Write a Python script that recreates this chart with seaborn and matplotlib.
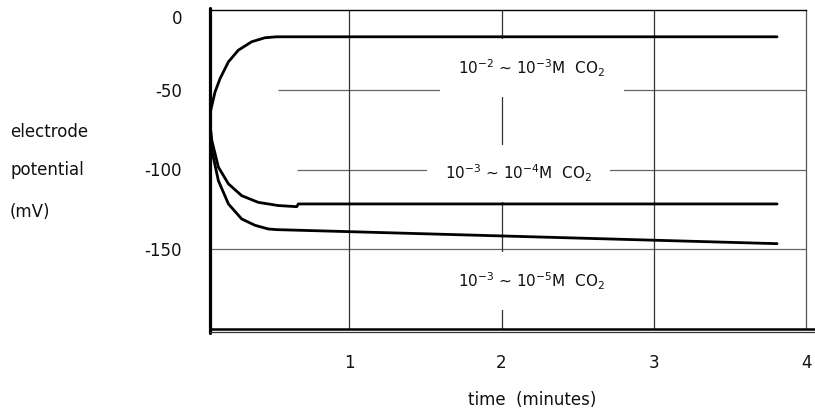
import pandas as pd
import matplotlib.pyplot as plt
import seaborn as sns

# curve readings (time in minutes, potential in mV)
high_t = [0.08, 0.097, 0.118, 0.151, 0.206, 0.271, 0.359, 0.446, 0.523, 3.81]
high_mv = [-67, -60, -51.4, -43, -32.5, -25.2, -19.9, -17.4, -16.8, -16.8]

mid_t = [0.08, 0.097, 0.14, 0.206, 0.293, 0.402, 0.534, 0.655, 0.665, 3.81]
mid_mv = [-67, -81.8, -98.5, -109, -116.4, -120.6, -122.6, -123.3, -121.6, -121.6]

low_t = [0.08, 0.097, 0.14, 0.206, 0.293, 0.381, 0.468, 0.523, 3.81]
low_mv = [-67, -88, -107, -121.6, -131, -135, -137.3, -137.7, -146.5]

labels = [r"10$^{-2}$ ~ 10$^{-3}$M  CO$_2$",
          r"10$^{-3}$ ~ 10$^{-4}$M  CO$_2$",
          r"10$^{-3}$ ~ 10$^{-5}$M  CO$_2$"]
label_t = [2.2, 2.11, 2.2]
label_mv = [-36.5, -102.5, -170]

x_ticks = [1, 2, 3, 4]
y_ticks = [0, -50, -100, -150]
y_ticklabels = ["0", "-50", "-100", "-150"]

sns.set_style("white")
plt.rcParams['font.family'] = ['DejaVu Sans']
plt.rcParams['mathtext.default'] = 'regular'
plt.rcParams['text.color'] = '#111111'
plt.rcParams['xtick.color'] = '#111111'
plt.rcParams['ytick.color'] = '#111111'

fig = plt.figure(figsize=(8.15, 4.13), dpi=100)
ax = fig.add_axes([210 / 815, 1 - 329 / 413, 596 / 815, 319 / 413])

# grid lines (the upper two start where the curves end)
ax.hlines([-50, -100, -150], [0.53, 0.657, 0.085], 4, color='#666666', lw=0.9, zorder=1)
ax.vlines([1, 2, 3], -200, 0, color='#333333', lw=0.9, zorder=1)

for t, mv in [(high_t, high_mv), (mid_t, mid_mv), (low_t, low_mv)]:
    df = pd.DataFrame({'t': t, 'mv': mv})
    sns.lineplot(data=df, x='t', y='mv', color='black', lw=2, ax=ax,
                 estimator=None, sort=False, zorder=3)

for txt, t, mv in zip(labels, label_t, label_mv):
    ax.text(t, mv, txt, ha='center', va='center', fontsize=11, zorder=2.5,
            bbox=dict(fc='white', ec='none', pad=13))

ax.set_xlim(0.085, 4)
ax.set_ylim(-200, 0)
ax.set_xticks(x_ticks)
ax.set_yticks(y_ticks)
ax.set_yticklabels(y_ticklabels)
ax.tick_params(axis='y', length=0, pad=20, labelsize=12)
ax.tick_params(axis='x', length=0, pad=18, labelsize=12)
ax.get_yticklabels()[0].set_va('top')
ax.set_xlabel("")
ax.set_ylabel("")

ax.spines['top'].set_linewidth(1)
ax.spines['top'].set_color('black')
ax.spines['right'].set_linewidth(0.9)
ax.spines['right'].set_color('#555555')
ax.spines['left'].set_visible(False)
ax.spines['bottom'].set_visible(False)
# heavy axis lines, running a bit past the frame
ax.plot([0, 0], [-0.012, 1.006], color='black', lw=2.3, transform=ax.transAxes, clip_on=False, zorder=4)
ax.plot([0, 1.015], [0, 0], color='black', lw=1.8, transform=ax.transAxes, clip_on=False, zorder=4)
ax.plot([0, 1.015], [-0.009, -0.009], color='#333333', lw=0.9, transform=ax.transAxes, clip_on=False, zorder=4)

fig.text(532 / 815, 1 - 400 / 413, "time  (minutes)", ha='center', va='center', fontsize=12)
fig.text(10 / 815, 1 - 132 / 413, "electrode", ha='left', va='center', fontsize=12)
fig.text(10 / 815, 1 - 170 / 413, "potential", ha='left', va='center', fontsize=12)
fig.text(10 / 815, 1 - 212 / 413, "(mV)", ha='left', va='center', fontsize=12)

fig.savefig("out.png", dpi=100)
